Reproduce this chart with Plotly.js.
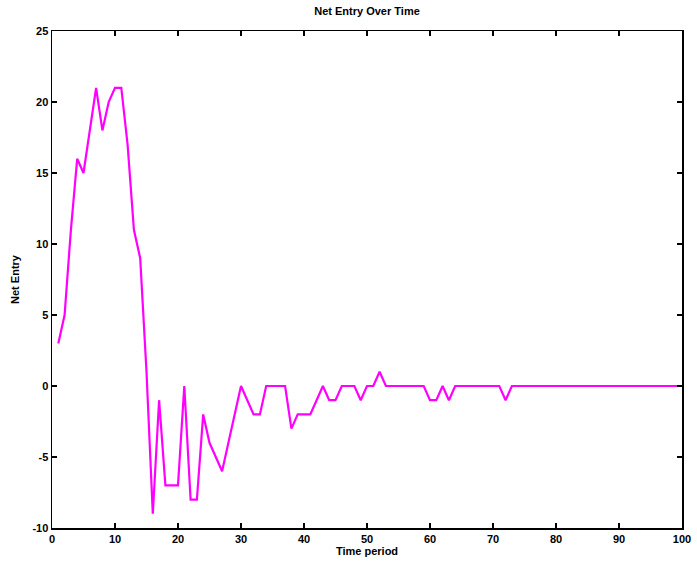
<!DOCTYPE html>
<html>
<head>
<meta charset="utf-8">
<script src="https://cdn.plot.ly/plotly-3.0.1.min.js"></script>
<style>html,body{margin:0;padding:0;background:#fff;}#chart{width:697px;height:566px;}</style>
</head>
<body>
<div id="chart"></div>
<script>
// Time periods 1..100
const timePeriods = [
  1,2,3,4,5,6,7,8,9,10,
  11,12,13,14,15,16,17,18,19,20,
  21,22,23,24,25,26,27,28,29,30,
  31,32,33,34,35,36,37,38,39,40,
  41,42,43,44,45,46,47,48,49,50,
  51,52,53,54,55,56,57,58,59,60,
  61,62,63,64,65,66,67,68,69,70,
  71,72,73,74,75,76,77,78,79,80,
  81,82,83,84,85,86,87,88,89,90,
  91,92,93,94,95,96,97,98,99,100
];
// Net entry per period
const netEntry = [
  3,5,11,16,15,18,21,18,20,21,
  21,17,11,9,1,-9,-1,-7,-7,-7,
  0,-8,-8,-2,-4,-5,-6,-4,-2,0,
  -1,-2,-2,0,0,0,0,-3,-2,-2,
  -2,-1,0,-1,-1,0,0,0,-1,0,
  0,1,0,0,0,0,0,0,0,-1,
  -1,0,-1,0,0,0,0,0,0,0,
  0,-1,0,0,0,0,0,0,0,0,
  0,0,0,0,0,0,0,0,0,0,
  0,0,0,0,0,0,0,0,0,0
];
const xTicks = [0,10,20,30,40,50,60,70,80,90,100];
const yTicks = [-10,-5,0,5,10,15,20,25];

const fontBase = {family: 'Liberation Sans, Arial, sans-serif', size: 11, color: '#000', weight: 'bold'};

const trace = {
  x: timePeriods,
  y: netEntry,
  type: 'scatter',
  mode: 'lines',
  line: {color: '#ff00ff', width: 2.2},
  hoverinfo: 'skip'
};

const axisCommon = {
  showgrid: false,
  zeroline: false,
  showline: true,
  linecolor: '#000',
  linewidth: 1.5,
  mirror: 'ticks',
  ticks: 'inside',
  ticklen: 5,
  tickwidth: 1.5,
  tickcolor: '#000',
  tickfont: fontBase
};

const layout = {
  width: 697,
  height: 566,
  margin: {l: 52, r: 15, t: 31, b: 38},
  paper_bgcolor: '#fff',
  plot_bgcolor: '#fff',
  showlegend: false,
  title: {text: 'Net Entry Over Time', font: fontBase, x: 0.5, xanchor: 'center', y: 1, yanchor: 'top', pad: {t: 7}, xref: 'paper'},
  xaxis: Object.assign({}, axisCommon, {
    range: [0, 100],
    tickvals: xTicks,
    ticktext: xTicks.map(String),
    title: {text: 'Time period', font: fontBase, standoff: 3}
  }),
  yaxis: Object.assign({}, axisCommon, {
    range: [-10, 25],
    tickvals: yTicks,
    ticktext: yTicks.map(String),
    title: {text: 'Net Entry', font: fontBase, standoff: 10}
  })
};

Plotly.newPlot('chart', [trace], layout, {staticPlot: true, displayModeBar: false});
</script>
</body>
</html>
